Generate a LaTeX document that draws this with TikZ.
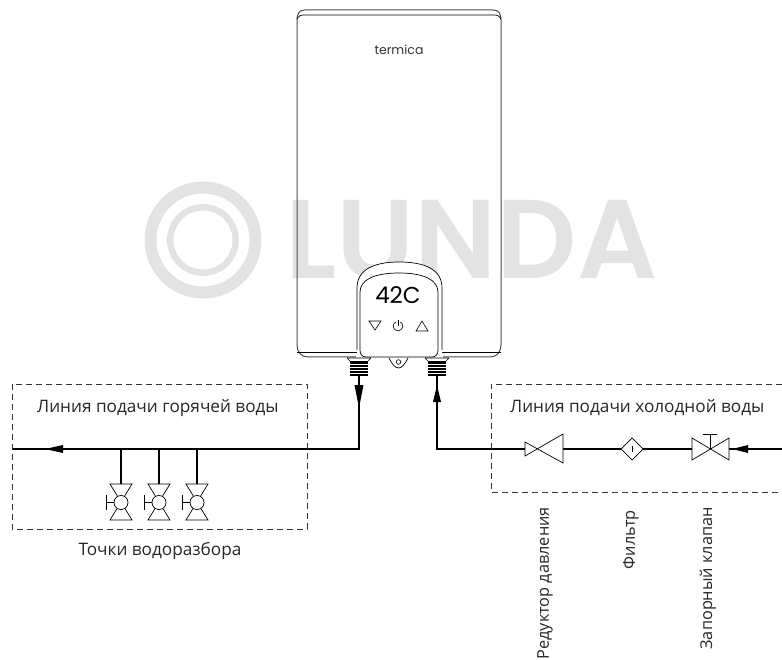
\documentclass[tikz,border=0pt]{standalone}
\usepackage{fontspec}
\setmainfont{Open Sans}
\newfontfamily\logofont{Poppins}
\newfontfamily\wmfont{Poppins SemiBold}
\tikzset{
 pipe/.style={line width=1.5pt,black},
 thin line/.style={line width=0.7pt,black},
 box/.style={line width=0.5pt,dash pattern=on 6pt off 4pt,black!80},
 lbl/.style={font=\fontsize{17.2}{19}\selectfont,text=black!85,inner sep=0pt},
 vlbl/.style={font=\fontsize{16.3}{19}\selectfont,text=black!85,inner sep=0pt,rotate=90,anchor=east},
 tip/.style={fill=black},
}
\definecolor{wm}{gray}{0.89}
\begin{document}
\begin{tikzpicture}[x=1pt,y=-1pt]
\useasboundingbox (0,0) rectangle (782,660);
% watermark
\fill[wm,even odd rule] (203,240) circle (58.5) (203,240) circle (46.5);
\fill[wm,even odd rule] (203,240) circle (36) (203,240) circle (29.5);
\node[text=wm,inner sep=0pt,anchor=west] (wmark) at (285,240) {\wmfont\fontsize{112}{112}\selectfont LUNDA};
% body
\draw[line width=1pt,black!70] (297,345) -- (297,20) .. controls (297,14) and (299,10) .. (305,10) -- (493,10) .. controls (499,10) and (501,14) .. (501,20) -- (501,345) .. controls (501,352) and (497,357) .. (490,357) -- (443,357);
\draw[line width=1pt,black!70] (297,345) .. controls (297,352) and (301,357) .. (308,357) -- (356,357);
\draw[thin line] (297,19) .. controls (299,16) and (300,15) .. (304,15) -- (494,15) .. controls (498,15) and (499,16) .. (501,19);
\draw[thin line] (297,352) -- (357,352) (441,352) -- (501,352);
\node[inner sep=0pt,text=black!80] (logo) at (399,50) {\logofont\fontsize{12.5}{13}\selectfont termica};
% panel
\fill[white] (357,357) -- (357,288) .. controls (357,269) and (375,262) .. (399,262) .. controls (424,262) and (442,269) .. (442,288) -- (442,357) -- cycle;
\draw[thin line] (357,350) -- (357,288) .. controls (357,269) and (375,262) .. (399,262) .. controls (424,262) and (442,269) .. (442,288) -- (442,350);
\draw[thin line] (360,350) .. controls (360,354) and (362,357) .. (366,357) -- (432,357) .. controls (436,357) and (438,354) .. (438,350) -- (438,292) .. controls (438,280) and (424,273) .. (399,273) .. controls (374,273) and (360,280) .. (360,292) -- cycle;
\node[inner sep=0pt,text=black] (display) at (398,295) {\logofont\fontsize{23}{23}\selectfont 42C};
\draw[line width=0.6pt] (369,321) -- (381,321) -- (375,330) -- cycle;
\draw[line width=0.6pt] (416,331) -- (428,331) -- (422,321) -- cycle;
\draw[line width=0.6pt] plot[smooth,domain=120:420,samples=24] ({398+4.6*cos(\x)},{326-4.6*sin(\x)});
\draw[line width=0.6pt] (398,320) -- (398,326);
% hook
\draw[thin line] (389,358) .. controls (392,364) and (395,368) .. (398.5,368) .. controls (402,368) and (405,364) .. (408,358);
\draw[line width=0.6pt] (398.5,362) circle (2.3);
% fittings
\foreach \cx in {359,437}{
 \fill[black] (\cx-9,361) rectangle (\cx+9,376);
 \draw[line width=.7pt] (\cx-12,358) -- (\cx+12,358) (\cx-12,358) -- (\cx-9,361) (\cx+12,358) -- (\cx+9,361);
 \foreach \yy in {364,367,...,373} \draw[white,line width=.5pt] (\cx-9,\yy) -- (\cx+9,\yy);
}
% named points
\coordinate (hotTop) at (359,376);
\coordinate (hotCorner) at (359,449);
\coordinate (hotEnd) at (12,449);
\coordinate (coldTop) at (437,376);
\coordinate (coldCorner) at (437,449);
\coordinate (coldEnd) at (782,449);
\draw[pipe] (hotTop) -- (hotCorner) -- (hotEnd);
\draw[pipe] (coldTop) -- (coldCorner) -- (525,449);
\draw[pipe] (563,449) -- (621,449) (643,449) -- (692,449) (729,449) -- (coldEnd);
% arrows
\fill[tip] (359,408) -- (354.5,385) -- (363.5,385) -- cycle;
\fill[tip] (437,385) -- (433,402) -- (441,402) -- cycle;
\fill[tip] (45,449) -- (63,445) -- (63,453) -- cycle;
\fill[tip] (732,449) -- (748,445) -- (748,453) -- cycle;
% boxes
\draw[box] (12,384) rectangle (307,529);
\draw[box] (782,384) -- (491,384) -- (491,492) -- (782,492);
% reducer
\draw[thin line,fill=white] (525,442) -- (563,463) -- (563,434) -- (525,456) -- cycle;
% filter
\draw[thin line,fill=white] (632,438) -- (643,449) -- (632,460) -- (621,449) -- cycle;
\draw[line width=.5pt] (632,446) -- (632,452);
% shut off
\draw[thin line,fill=white] (692,438) -- (729,460) -- (729,438) -- (692,460) -- cycle;
\draw[thin line] (710,449) -- (710,434) (703,434) -- (717,434);
% taps
\foreach \x in {121,159,197}{
 \draw[pipe] (\x,449) -- (\x,484);
 \draw[thin line] (\x-11,484) -- (\x+11,484) -- (\x-11,520) -- (\x+11,520) -- cycle;
 \draw[thin line,fill=white] (\x,502.5) circle (7);
 \draw[thin line] (\x-7,502.5) -- (\x-15,502.5) (\x-15,495) -- (\x-15,510);
}
% labels
\node[lbl,anchor=west] (hotlbl) at (37,408) {Линия подачи горячей воды};
\node[lbl,anchor=west] (coldlbl) at (510,408) {Линия подачи холодной воды};
\node[lbl,anchor=center] (points) at (160,551) {Точки водоразбора};
\node[vlbl] (r1) at (545,507) {Редуктор давления};
\node[vlbl] (r2) at (631,510) {Фильтр};
\node[vlbl] (r3) at (708,507) {Запорный клапан};
\end{tikzpicture}
\end{document}
